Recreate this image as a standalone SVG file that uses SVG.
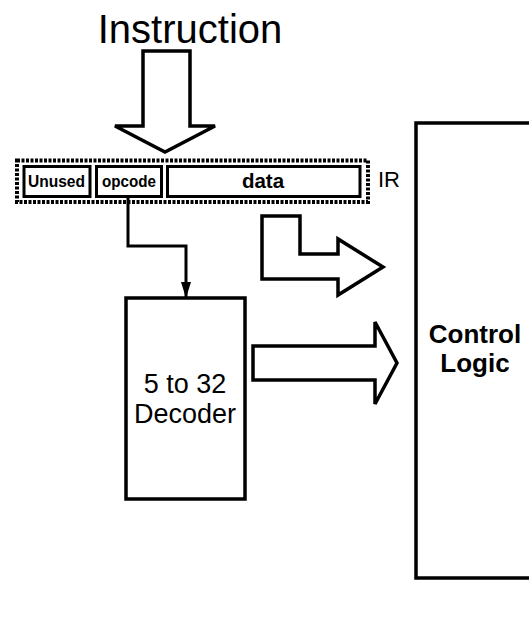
<svg xmlns="http://www.w3.org/2000/svg" width="529" height="635" viewBox="0 0 529 635">
<style>
.ln{fill:#fff;stroke:#000;stroke-width:3.5;stroke-linejoin:miter}
.bx{fill:#fff;stroke:#000;stroke-width:3}
.t{font-family:"Liberation Sans",Arial,sans-serif;fill:#000}
.b{font-weight:bold}
</style>
<defs>
<marker id="ah" markerWidth="16" markerHeight="10" refX="15" refY="5" orient="auto" markerUnits="userSpaceOnUse" viewBox="0 0 16 10">
<path d="M0,0 L16,5 L0,10 Z" fill="#000"/>
</marker>
</defs>
<rect width="529" height="635" fill="#fff"/>
<g id="title"><text class="t" x="190" y="43" font-size="40" text-anchor="middle">Instruction</text></g>
<g id="control-logic">
<rect class="ln" x="416" y="123" width="120" height="455"/>
<text class="t b" x="475" y="343" font-size="26" text-anchor="middle">Control</text>
<text class="t b" x="475" y="372" font-size="26" text-anchor="middle">Logic</text>
</g>
<g id="ir">
<rect x="17" y="160.5" width="351" height="41.5" fill="#fff" stroke="#000" stroke-width="4" stroke-dasharray="3,1.5"/>
<text class="t" x="378" y="187" font-size="22">IR</text>
</g>
<g id="unused"><rect class="bx" x="24" y="166.5" width="66" height="30"/>
<text class="t b" x="28" y="187" font-size="16.5" textLength="57" lengthAdjust="spacingAndGlyphs">Unused</text></g>
<g id="opcode"><rect class="bx" x="96.5" y="166.5" width="65" height="30"/>
<text class="t b" x="102" y="187" font-size="16.5" textLength="54" lengthAdjust="spacingAndGlyphs">opcode</text></g>
<g id="data"><rect class="bx" x="167.5" y="166.5" width="192.5" height="30"/>
<text class="t b" x="263" y="187.5" font-size="20.5" text-anchor="middle">data</text></g>
<g id="decoder">
<rect class="ln" x="126" y="298" width="119" height="201"/>
<text class="t" x="185" y="393" font-size="27" text-anchor="middle">5 to 32</text>
<text class="t" x="185" y="423" font-size="27" text-anchor="middle">Decoder</text>
</g>
<g id="connectors">
<path class="ln" d="M143,51 L190,51 L190,126 L215,126 L165,152 L115,126 L143,126 Z"/>
<path d="M128,197 L128,246 L186,246 L186,297" fill="none" stroke="#000" stroke-width="3" marker-end="url(#ah)"/>
<path class="ln" d="M262,216 L300,216 L300,254 L338,254 L338,239 L383,267 L338,295 L338,279 L262,279 Z"/>
<path class="ln" d="M253,346 L375,346 L375,322 L397,363 L375,404 L375,380 L253,380 Z"/>
</g>
</svg>
